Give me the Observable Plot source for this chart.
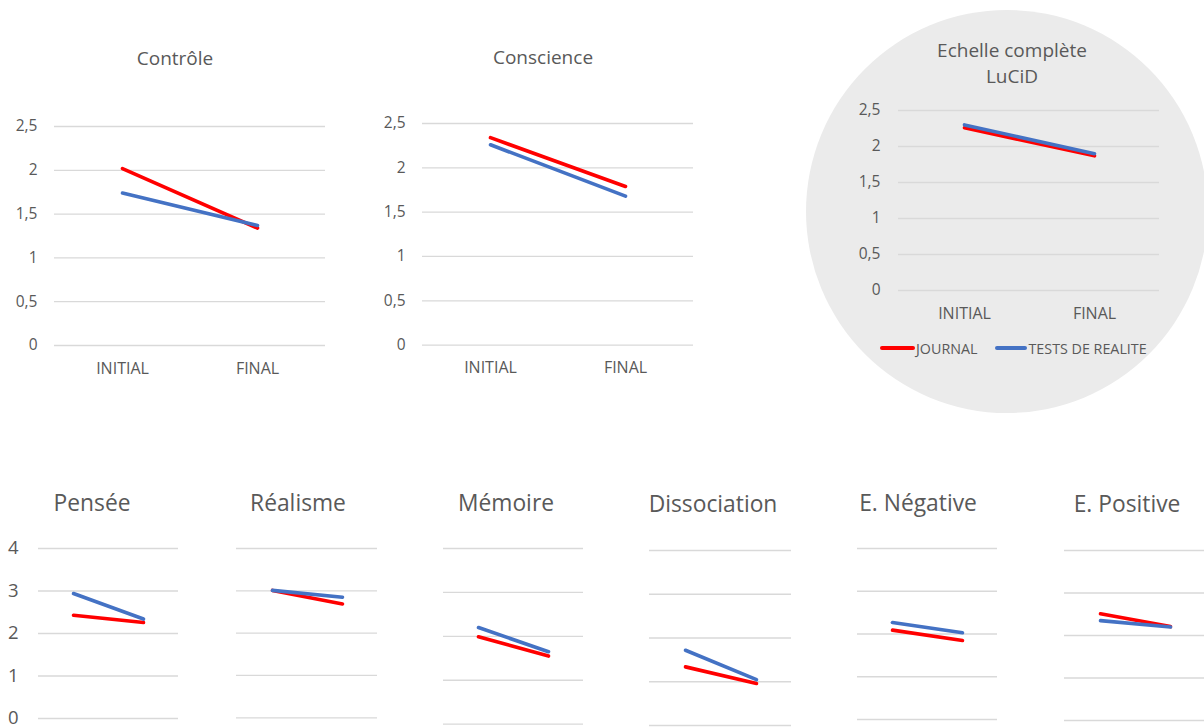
<!DOCTYPE html>
<html>
<head>
<meta charset="utf-8">
<script src="https://cdn.jsdelivr.net/npm/d3@7"></script>
<script src="https://cdn.jsdelivr.net/npm/@observablehq/plot@0.6"></script>
<style>
  html, body { margin: 0; padding: 0; background: #ffffff; }
  #root { position: relative; width: 1204px; height: 727px; overflow: hidden; font-family: "Open Sans", sans-serif; color: #595959; }
  .panel { position: absolute; }
  .panel svg { background: transparent !important; max-width: none !important; overflow: visible; }
  .title { position: absolute; transform: translate(-50%, -50%); white-space: pre; text-align: center; color: #595959; }
  .circle { position: absolute; border-radius: 50%; background: #ebebeb; }
  .legend { position: absolute; display: flex; align-items: center; font-size: 14.3px; color: #595959; white-space: nowrap; }
  .sw { display: inline-block; height: 4px; border-radius: 2px; }
  g[aria-label^="x-axis"] text { font-size: 16px; }
  .top g[aria-label^="y-axis"] text { font-size: 15.5px; }
  .bottom g[aria-label^="y-axis"] text { font-size: 18.5px; }
</style>
</head>
<body>
<div id="root"></div>
<script>
// ---- data ----
const periods = ["INITIAL", "FINAL"];
const seriesNames = ["JOURNAL", "TESTS DE REALITE"];
const subscales = ["Contrôle", "Conscience", "Echelle complète\nLuCiD", "Pensée", "Réalisme", "Mémoire", "Dissociation", "E. Négative", "E. Positive"];
const journalInitial = [2.02, 2.34, 2.26, 2.43, 3.01, 1.99, 1.34, 2.09, 2.51];
const journalFinal   = [1.34, 1.79, 1.87, 2.26, 2.69, 1.55, 0.96, 1.85, 2.21];
const testsInitial   = [1.74, 2.26, 2.30, 2.94, 3.01, 2.20, 1.72, 2.27, 2.35];
const testsFinal     = [1.37, 1.68, 1.90, 2.34, 2.85, 1.65, 1.05, 2.03, 2.20];
const topTicks = [0, 0.5, 1, 1.5, 2, 2.5];
const bottomTicks = [0, 1, 2, 3, 4];

// ---- layout (frame boxes in page pixels) ----
const layout = [
  {x0: 54,  x1: 325,  y0: 126,   y1: 345,   ticks: topTicks,    yAxis: true,  xAxis: true,  tx: 175,  ty: 58,  tf: 19,   pad: 17, row: "top"},
  {x0: 422, x1: 693,  y0: 122.7, y1: 344.3, ticks: topTicks,    yAxis: true,  xAxis: true,  tx: 543,  ty: 57,  tf: 19,   pad: 17, row: "top"},
  {x0: 898, x1: 1159, y0: 110,   y1: 290,   ticks: topTicks,    yAxis: true,  xAxis: true,  tx: 1012, ty: 63,  tf: 19,   pad: 18, row: "top"},
  {x0: 38,  x1: 178,  y0: 548.3, y1: 718.3, ticks: bottomTicks, yAxis: true,  xAxis: false, tx: 92,   ty: 503, tf: 22.8, pad: 20, row: "bottom"},
  {x0: 236, x1: 377,  y0: 548,   y1: 717.3, ticks: bottomTicks, yAxis: false, xAxis: false, tx: 298,  ty: 503, tf: 22.8, pad: 20, row: "bottom"},
  {x0: 443, x1: 583,  y0: 548.3, y1: 724,   ticks: bottomTicks, yAxis: false, xAxis: false, tx: 506,  ty: 503, tf: 22.8, pad: 20, row: "bottom"},
  {x0: 649, x1: 791,  y0: 550,   y1: 725,   ticks: bottomTicks, yAxis: false, xAxis: false, tx: 713,  ty: 504, tf: 22.8, pad: 20, row: "bottom"},
  {x0: 857, x1: 997,  y0: 548.3, y1: 719.3, ticks: bottomTicks, yAxis: false, xAxis: false, tx: 918,  ty: 503, tf: 22.8, pad: 20, row: "bottom"},
  {x0: 1064,x1: 1205, y0: 550,   y1: 720,   ticks: bottomTicks, yAxis: false, xAxis: false, tx: 1127, ty: 504, tf: 22.8, pad: 20, row: "bottom"}
];

const root = document.getElementById("root");

// background circle for the full scale chart
const circ = document.createElement("div");
circ.className = "circle";
Object.assign(circ.style, {left: "806px", top: "10px", width: "402px", height: "403px"});
root.appendChild(circ);

const fmt = d => String(d).replace(".", ",");
const colors = ["#ff0000", "#4472c4"];

subscales.forEach((name, i) => {
  const L = layout[i];
  const ml = L.yAxis ? 50 : 4, mr = 4, mt = 6, mb = L.xAxis ? 40 : (L.yAxis ? 8 : 3);
  const rows = [
    {series: seriesNames[0], period: periods[0], value: journalInitial[i]},
    {series: seriesNames[0], period: periods[1], value: journalFinal[i]},
    {series: seriesNames[1], period: periods[0], value: testsInitial[i]},
    {series: seriesNames[1], period: periods[1], value: testsFinal[i]}
  ];
  const chart = Plot.plot({
    width: (L.x1 - L.x0) + ml + mr,
    height: (L.y1 - L.y0) + mt + mb,
    marginLeft: ml, marginRight: mr, marginTop: mt, marginBottom: mb,
    style: {fontFamily: "Open Sans, sans-serif", fontSize: "15px", color: "#595959", background: "transparent"},
    x: {type: "point", domain: periods, padding: 0.5, axis: L.xAxis ? "bottom" : null, tickSize: 0, tickPadding: 17, label: null},
    y: {domain: [0, L.ticks[L.ticks.length - 1]], ticks: L.ticks, tickFormat: fmt, axis: L.yAxis ? "left" : null, tickSize: 0, tickPadding: L.pad, label: null},
    color: {domain: seriesNames, range: colors},
    marks: [
      Plot.ruleY(L.ticks, {stroke: "#d9d9d9", strokeWidth: 1.3}),
      Plot.line(rows, {x: "period", y: "value", z: "series", stroke: "series", strokeWidth: 3.6, strokeLinecap: "round"})
    ]
  });
  const wrap = document.createElement("div");
  wrap.className = "panel " + L.row;
  wrap.style.left = (L.x0 - ml) + "px";
  wrap.style.top = (L.y0 - mt) + "px";
  wrap.appendChild(chart);
  root.appendChild(wrap);

  const t = document.createElement("div");
  t.className = "title";
  t.textContent = name;
  t.style.left = L.tx + "px";
  t.style.top = L.ty + "px";
  t.style.fontSize = L.tf + "px";
  t.style.lineHeight = "26px";
  root.appendChild(t);
});

// legend for the full scale chart
const leg = document.createElement("div");
leg.className = "legend";
Object.assign(leg.style, {left: "880px", top: "338px", height: "20px"});
seriesNames.forEach((s, k) => {
  const sw = document.createElement("span");
  sw.className = "sw";
  sw.style.width = k === 0 ? "35px" : "32px";
  sw.style.background = colors[k];
  const tx = document.createElement("span");
  tx.textContent = s;
  tx.style.marginLeft = "1px";
  tx.style.marginRight = k === 0 ? "18px" : "0";
  leg.appendChild(sw);
  leg.appendChild(tx);
});
root.appendChild(leg);
</script>
</body>
</html>
